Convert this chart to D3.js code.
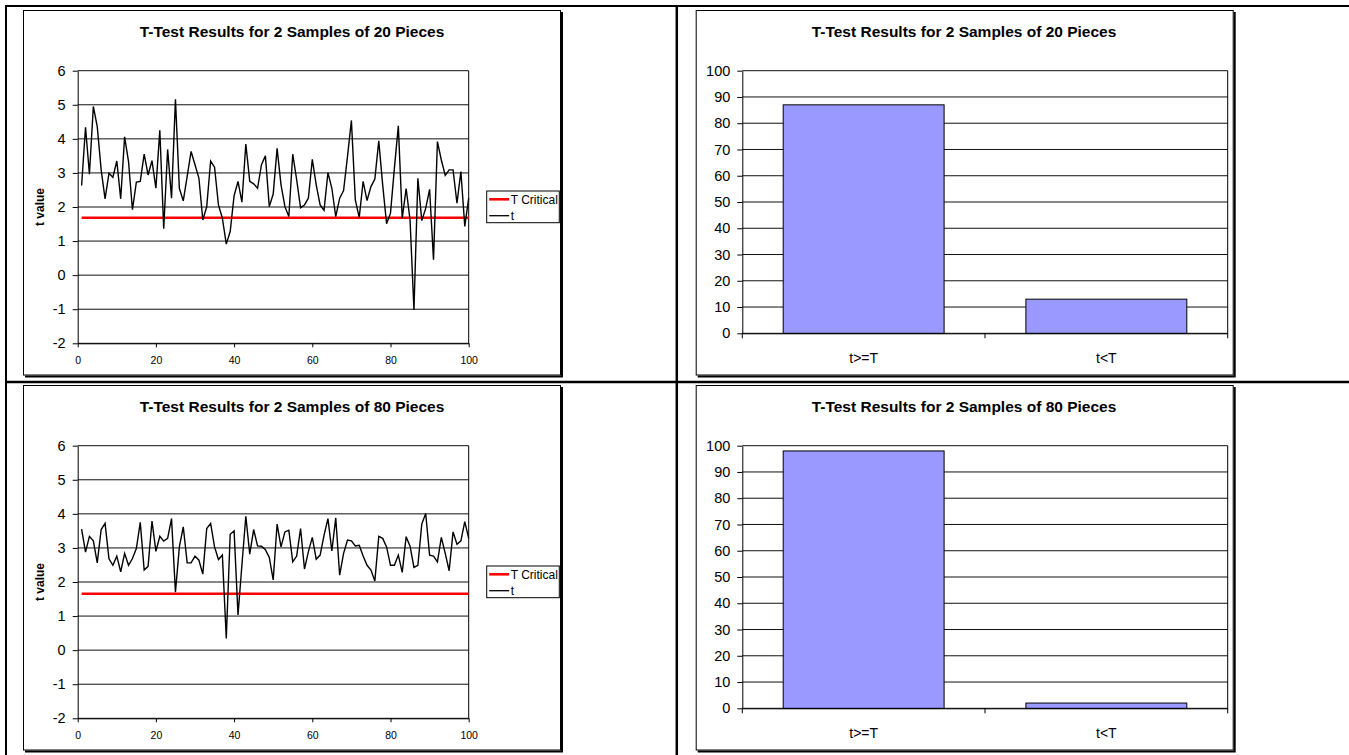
<!DOCTYPE html>
<html>
<head>
<meta charset="utf-8">
<script src="https://cdn.jsdelivr.net/npm/d3@7"></script>
<style>
  body { margin: 0; background: #fff; }
  svg { display: block; font-family: "Liberation Sans", Arial, sans-serif; }
</style>
</head>
<body>
<div id="chart"></div>
<script>
// values
const title20 = "T-Test Results for 2 Samples of 20 Pieces";
const title80 = "T-Test Results for 2 Samples of 80 Pieces";

const t20 = [2.63,4.34,2.96,4.95,4.36,3.09,2.24,2.99,2.87,3.35,
  2.24,4.06,3.33,1.92,2.73,2.75,3.55,2.94,3.36,2.55,
  4.25,1.36,3.69,2.26,5.16,2.55,2.18,2.90,3.63,3.24,
  2.85,1.62,2.01,3.35,3.17,2.06,1.67,0.91,1.28,2.33,
  2.75,2.14,3.85,2.75,2.68,2.55,3.24,3.50,2.01,2.38,
  3.72,2.65,2.01,1.72,3.55,2.80,1.98,2.06,2.26,3.40,
  2.65,2.06,1.90,3.01,2.55,1.72,2.26,2.48,3.48,4.54,
  2.21,1.69,2.75,2.19,2.60,2.82,3.94,2.65,1.51,1.82,
  3.14,4.38,1.67,2.54,1.62,-1.02,2.84,1.60,1.96,2.52,
  0.45,3.92,3.38,2.93,3.09,3.09,2.11,3.04,1.43,2.26];

const t80 = [3.55,2.88,3.34,3.21,2.56,3.54,3.72,2.68,2.49,2.76,
  2.30,2.84,2.49,2.69,2.98,3.75,2.35,2.46,3.79,2.90,
  3.34,3.20,3.28,3.86,1.70,3.03,3.62,2.56,2.56,2.76,
  2.64,2.23,3.57,3.72,3.03,2.66,2.79,0.34,3.40,3.50,
  1.03,2.50,3.93,2.82,3.54,3.06,3.05,2.95,2.72,2.06,
  3.70,3.03,3.47,3.52,2.59,2.76,3.57,2.38,2.89,3.31,
  2.67,2.79,3.37,3.86,2.91,3.88,2.20,2.84,3.23,3.21,
  3.06,3.08,2.76,2.49,2.35,2.03,3.34,3.28,3.03,2.49,
  2.49,2.79,2.28,3.33,3.05,2.43,2.49,3.70,4.01,2.79,
  2.76,2.59,3.31,2.84,2.33,3.47,3.11,3.21,3.77,3.28];

const tCritical20 = 1.686;
const tCritical80 = 1.655;

const barCategories = ["t>=T", "t<T"];
const bars20 = [87, 13];
const bars80 = [98, 2];

const lineTicksY = [-2, -1, 0, 1, 2, 3, 4, 5, 6];
const lineTicksX = [0, 20, 40, 60, 80, 100];
const barTicksY = [0, 10, 20, 30, 40, 50, 60, 70, 80, 90, 100];
const legendLabels = ["T Critical", "t"];

const svg = d3.select("#chart").append("svg")
  .attr("width", 1349)
  .attr("height", 755);

function drawFrame(g, x, y, w, h) {
  g.append("rect")
    .attr("x", x + 0.5).attr("y", y + 0.5)
    .attr("width", w).attr("height", h)
    .attr("fill", "#fff").attr("stroke", "#000").attr("stroke-width", 1);
  g.append("path")
    .attr("d", `M${x + w + 2},${y + 2} V${y + h + 2} H${x + 2}`)
    .attr("fill", "none").attr("stroke", "#000").attr("stroke-width", 2);
}

// d3 axes put their own font on the group, drop it so the svg font is used
function styleAxis(sel, size) {
  sel.attr("font-family", null).attr("font-size", null);
  sel.selectAll("text").style("font-size", size).attr("fill", "#000");
  sel.selectAll("line").attr("stroke", "#000");
  sel.select(".domain").attr("stroke", "#000");
}

function drawLinePanel(oy, title, series, tCrit) {
  const g = svg.append("g").attr("transform", `translate(0,${oy})`);
  drawFrame(g, 23, 10, 537, 364.5);

  const x = d3.scaleLinear().domain([0, 100]).range([77.7, 468.7]);
  const y = d3.scaleLinear().domain([-2, 6]).range([343.3, 70.7]);

  g.append("text")
    .attr("x", 292).attr("y", 36.5)
    .attr("text-anchor", "middle")
    .style("font-size", "15.5px").style("font-weight", "bold")
    .text(title);

  // grid
  g.append("g").selectAll("line")
    .data(lineTicksY)
    .enter().append("line")
    .attr("x1", x.range()[0]).attr("x2", x.range()[1])
    .attr("y1", d => y(d)).attr("y2", d => y(d))
    .attr("stroke", "#111").attr("stroke-width", 1);
  g.append("line")
    .attr("x1", x.range()[1]).attr("x2", x.range()[1])
    .attr("y1", y.range()[1]).attr("y2", y.range()[0])
    .attr("stroke", "#000");

  const yAxis = g.append("g")
    .attr("transform", `translate(${x.range()[0]},0)`)
    .call(d3.axisLeft(y).tickValues(lineTicksY).tickFormat(d => String(d))
      .tickSize(5).tickSizeOuter(0).tickPadding(7));
  styleAxis(yAxis, "14.5px");

  const xAxis = g.append("g")
    .attr("transform", `translate(0,${y.range()[0]})`)
    .call(d3.axisBottom(x).tickValues(lineTicksX).tickFormat(d => String(d))
      .tickSize(4).tickSizeOuter(0).tickPadding(9));
  styleAxis(xAxis, "10.5px");

  g.append("text")
    .attr("transform", `translate(40,${(y.range()[0] + y.range()[1]) / 2}) rotate(-90)`)
    .attr("text-anchor", "middle").attr("dy", "0.35em")
    .style("font-size", "12px").style("font-weight", "bold")
    .text("t value");

  const line = d3.line()
    .x((d, i) => x(i + 1))
    .y(d => y(d));

  g.append("path")
    .datum(series.map(() => tCrit))
    .attr("d", line)
    .attr("fill", "none").attr("stroke", "#ff0000").attr("stroke-width", 2.6);

  g.append("path")
    .datum(series)
    .attr("d", line)
    .attr("fill", "none").attr("stroke", "#000").attr("stroke-width", 1.4)
    .attr("stroke-linejoin", "miter");

  // legend
  const lg = g.append("g").attr("transform", "translate(486.7,191)");
  lg.append("rect")
    .attr("width", 72.6).attr("height", 31.7)
    .attr("fill", "#fff").attr("stroke", "#000");
  const colors = ["#ff0000", "#000"];
  const widths = [2.6, 1.3];
  legendLabels.forEach((lab, i) => {
    const ly = 8.3 + i * 16.4;
    lg.append("line")
      .attr("x1", 2.5).attr("x2", 22.5)
      .attr("y1", ly).attr("y2", ly)
      .attr("stroke", colors[i]).attr("stroke-width", widths[i]);
    lg.append("text")
      .attr("x", 24).attr("y", ly + 4.3)
      .style("font-size", "12px")
      .text(lab);
  });
}

function drawBarPanel(oy, title, values) {
  const g = svg.append("g").attr("transform", `translate(0,${oy})`);
  drawFrame(g, 695.7, 10, 537, 364.5);

  const x = d3.scaleBand().domain(barCategories).range([742.3, 1227.7])
    .paddingInner(0.337).paddingOuter(0.1685);
  const y = d3.scaleLinear().domain([0, 100]).range([333.3, 70.7]);

  g.append("text")
    .attr("x", 964).attr("y", 36.5)
    .attr("text-anchor", "middle")
    .style("font-size", "15.5px").style("font-weight", "bold")
    .text(title);

  g.append("g").selectAll("line")
    .data(barTicksY)
    .enter().append("line")
    .attr("x1", x.range()[0]).attr("x2", x.range()[1])
    .attr("y1", d => y(d)).attr("y2", d => y(d))
    .attr("stroke", "#111").attr("stroke-width", 1);
  g.append("line")
    .attr("x1", x.range()[1]).attr("x2", x.range()[1])
    .attr("y1", y.range()[1]).attr("y2", y.range()[0])
    .attr("stroke", "#000");

  g.selectAll(".bar")
    .data(values)
    .enter().append("rect")
    .attr("class", "bar")
    .attr("x", (d, i) => x(barCategories[i]))
    .attr("y", d => y(d))
    .attr("width", x.bandwidth())
    .attr("height", d => y(0) - y(d))
    .attr("fill", "#9999ff")
    .attr("stroke", "#000").attr("stroke-width", 1);

  const yAxis = g.append("g")
    .attr("transform", `translate(${x.range()[0]},0)`)
    .call(d3.axisLeft(y).tickValues(barTicksY).tickSize(5).tickSizeOuter(0).tickPadding(7));
  styleAxis(yAxis, "14.5px");

  const xAxis = g.append("g")
    .attr("transform", `translate(0,${y.range()[0]})`)
    .call(d3.axisBottom(x).tickSize(0).tickSizeOuter(0).tickPadding(20));
  styleAxis(xAxis, "14px");

  // category boundary ticks
  const step = x.step();
  const bounds = [x.range()[0], x.range()[0] + step, x.range()[1]];
  g.append("g").selectAll("line")
    .data(bounds)
    .enter().append("line")
    .attr("x1", d => d).attr("x2", d => d)
    .attr("y1", y.range()[0]).attr("y2", y.range()[0] + 5)
    .attr("stroke", "#000");
}

drawLinePanel(0, title20, t20, tCritical20);
drawBarPanel(0, title20, bars20);
drawLinePanel(375, title80, t80, tCritical80);
drawBarPanel(375, title80, bars80);

// table rules
const rules = svg.append("g").attr("stroke", "#000");
rules.append("line").attr("x1", 5).attr("x2", 1349).attr("y1", 6).attr("y2", 6).attr("stroke-width", 2);
rules.append("line").attr("x1", 6).attr("x2", 6).attr("y1", 5).attr("y2", 755).attr("stroke-width", 2);
rules.append("line").attr("x1", 676.8).attr("x2", 676.8).attr("y1", 5).attr("y2", 755).attr("stroke-width", 2.5);
rules.append("line").attr("x1", 5).attr("x2", 1349).attr("y1", 382).attr("y2", 382).attr("stroke-width", 2.5);
</script>
</body>
</html>
